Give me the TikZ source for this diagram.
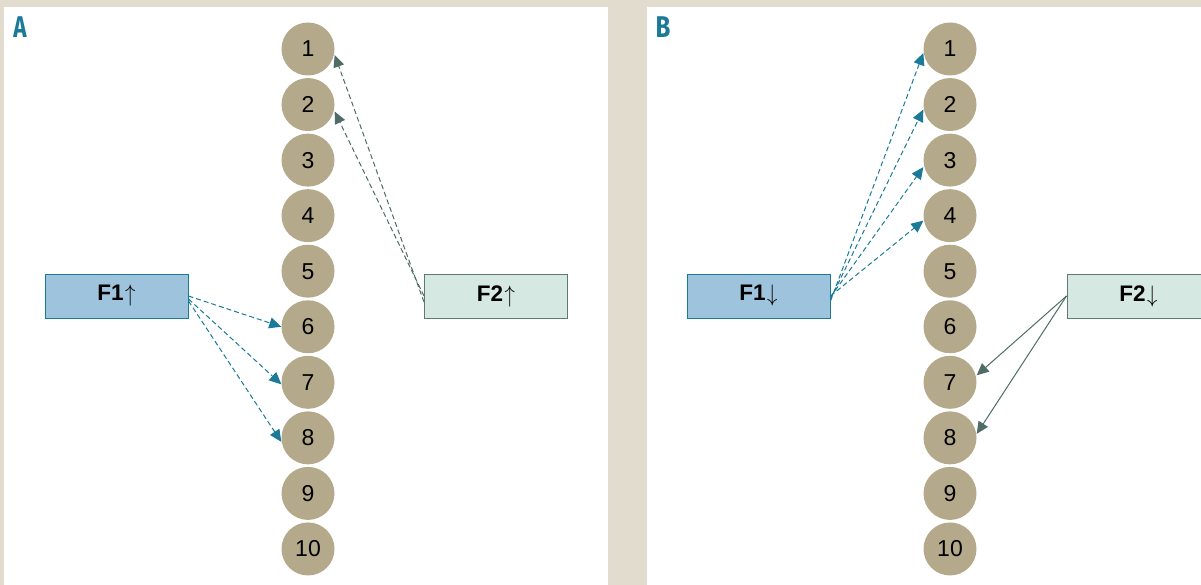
\documentclass[tikz,border=0pt]{standalone}
\usepackage{fontspec}
\setmainfont{Liberation Sans}
\newfontfamily\labelfont{Fira Sans}
\usetikzlibrary{arrows.meta}
\definecolor{bgc}{HTML}{E2DCCF}
\definecolor{tanc}{HTML}{B5A98C}
\definecolor{tealc}{HTML}{1A7A98}
\definecolor{fonefill}{HTML}{9EC3DC}
\definecolor{ftwofill}{HTML}{D6E8E2}
\definecolor{ftwodraw}{HTML}{5D7B72}
\definecolor{greyarr}{HTML}{4F6C66}
\newcommand{\myup}{\kern1.5pt\raisebox{-1pt}{\scalebox{1}[1.15]{$\uparrow$}}}
\newcommand{\mydown}{\kern1.5pt\raisebox{-1pt}{\scalebox{1}[1.15]{$\downarrow$}}}
\begin{document}
\begin{tikzpicture}[x=1pt,y=-1pt,
  circ/.style={circle, fill=tanc, minimum size=53pt, inner sep=0pt, font=\fontsize{23}{26}\selectfont},
  boxone/.style={draw=tealc, fill=fonefill, minimum width=143pt, minimum height=44pt, inner sep=0pt, line width=1pt, font=\fontsize{22.5}{26}\selectfont\bfseries},
  boxtwo/.style={draw=ftwodraw, fill=ftwofill, minimum width=143pt, minimum height=44pt, inner sep=0pt, line width=1pt, font=\fontsize{22.5}{26}\selectfont\bfseries},
  tip/.style={-{Triangle[length=12pt,width=11pt,fill=#1]}},
  tealarr/.style={draw=tealc, line width=1pt, dash pattern=on 5pt off 3pt, tip=tealc},
  greydash/.style={draw=greyarr, line width=1pt, dash pattern=on 5pt off 3pt, tip=greyarr},
  greysolid/.style={draw=greyarr, line width=1pt, tip=greyarr},
  panellabel/.style={text=tealc, font=\labelfont\fontsize{30}{32}\selectfont\bfseries, inner sep=0pt}
]
\clip (0,0) rectangle (1201,585);
\fill[bgc] (0,0) rectangle (1201,585);
\fill[white] (4,7) rectangle (608,585);
\fill[white] (647,7) rectangle (1201,585);

\node[panellabel] (labA) at (20,27) {\scalebox{0.75}[1]{A}};
\node[panellabel] (labB) at (663,27) {\scalebox{0.8}[1]{B}};

\foreach \i [evaluate=\i as \yy using {49+55.55*(\i-1)}] in {1,...,10} {
  \node[circ] (a\i) at (308,\yy) {\i};
  \node[circ] (b\i) at (950,\yy) {\i};
}

\node[boxone] (f1a) at (116.5,296) {F1\myup};
\node[boxtwo] (f2a) at (496,296) {F2\myup};
\node[boxone] (f1b) at (758.5,296) {F1\mydown};
\node[boxtwo] (f2b) at (1138.5,296) {F2\mydown};

% Panel A
\draw[tealarr] (f1a.east) -- (a6.west);
\draw[tealarr] ([yshift=-3pt]f1a.east) -- ([yshift=-2pt]a7.west);
\draw[tealarr] ([yshift=-5pt]f1a.east) -- ([yshift=-4pt]a8.west);
\draw[greydash] ([yshift=-6pt]f2a.west) -- ([yshift=-6pt]a1.east);
\draw[greydash] (f2a.west) -- ([yshift=-7pt]a2.east);

% Panel B
\draw[tealarr] ([yshift=-5pt]f1b.east) -- ([yshift=-4pt]b1.west);
\draw[tealarr] ([yshift=-3pt]f1b.east) -- ([yshift=-5pt]b2.west);
\draw[tealarr] ([yshift=-1pt]f1b.east) -- ([yshift=-7pt]b3.west);
\draw[tealarr] (f1b.east) -- ([yshift=-5pt]b4.west);
\draw[greysolid] (f2b.west) -- ([yshift=7pt]b7.east);
\draw[greysolid] (f2b.west) -- ([yshift=4pt]b8.east);
\end{tikzpicture}
\end{document}
